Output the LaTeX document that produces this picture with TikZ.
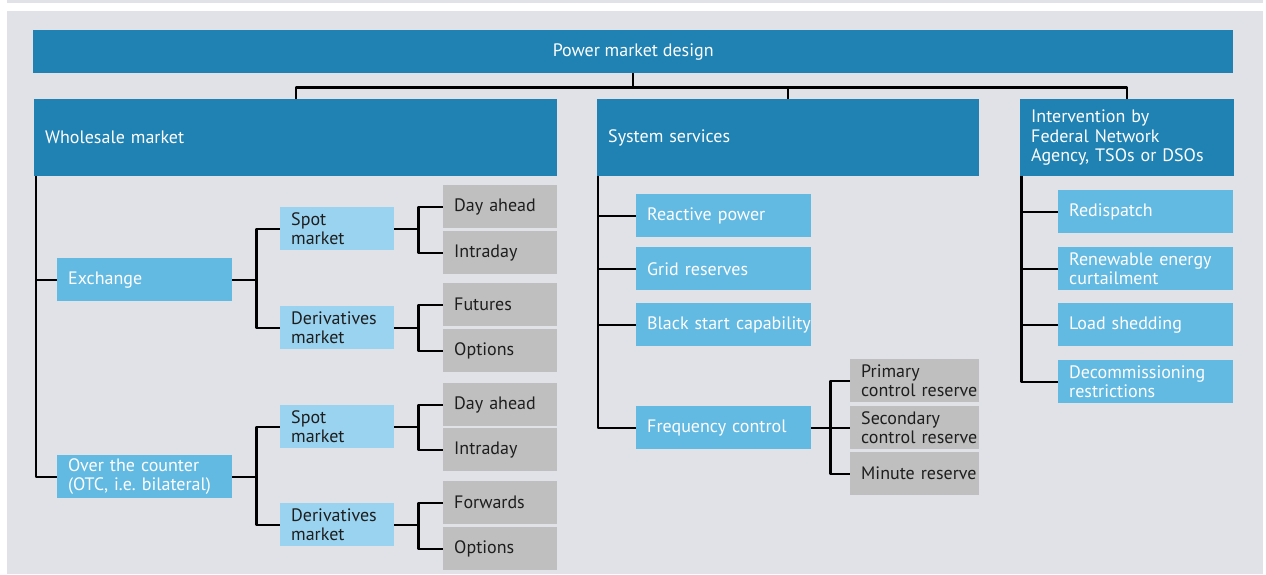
\documentclass[tikz,border=0pt]{standalone}
\usepackage{fontspec}
\setmainfont{PT Sans}
\hyphenpenalty=10000
\exhyphenpenalty=10000
\definecolor{panel}{HTML}{E1E2E7}
\definecolor{dkblue}{HTML}{1F82B3}
\definecolor{mdblue}{HTML}{62BAE3}
\definecolor{ltblue}{HTML}{9AD3F0}
\definecolor{leafgray}{HTML}{BFBFBF}
\definecolor{ink}{HTML}{1E1E1E}
\begin{document}
\begin{tikzpicture}[x=1pt, y=-1pt, line join=round,
	box/.style={rectangle, anchor=north west, inner xsep=11pt, inner ysep=0pt, align=left,
		font=\fontsize{18}{19.5}\selectfont},
	head/.style={box, fill=dkblue, text=white, minimum height=77pt},
	cell/.style={box, minimum width=175pt, text width=153pt, minimum height=43pt},
	small/.style={box, minimum width=114pt, text width=92pt, minimum height=43pt},
	sub/.style={box, minimum width=129pt, text width=107pt, minimum height=43pt, fill=leafgray, text=ink},
	mid/.style={fill=mdblue, text=white},
	light/.style={fill=ltblue, text=ink},
	leaf/.style={small, fill=leafgray, text=ink},
	link/.style={line width=2.2pt, black}]
	\useasboundingbox (0,0) rectangle (1266,574);
	% backdrop
	\fill[panel] (7,0) rectangle (1263,3);
	\fill[panel] (7,11) rectangle (1263,574);
	% top level
	\node[head, minimum width=1200pt, minimum height=43pt, align=center] (power) at (33,30) {Power market design};
	\node[head, minimum width=523pt, text width=501pt] (whole) at (34,99) {Wholesale market};
	\node[head, minimum width=382pt, text width=360pt] (sys) at (597,99) {System services};
	\node[head, minimum width=214pt, text width=192pt] (inter) at (1020,99) {Intervention by\\Federal Network\\Agency,~TSOs~or~DSOs};
	% wholesale market
	\node[cell, mid] (exch) at (57,258) {Exchange};
	\node[cell, mid] (otc) at (57,455) {Over~the~counter\\(OTC,~i.e.~bilateral)};
	\node[small, light] (spotA) at (280,207) {Spot\\market};
	\node[small, light] (derivA) at (280,306) {Derivatives\\market};
	\node[small, light] (spotB) at (280,405) {Spot\\market};
	\node[small, light] (derivB) at (280,503) {Derivatives\\market};
	\node[leaf] (dayA) at (443,185) {Day~ahead};
	\node[leaf] (intraA) at (443,231) {Intraday};
	\node[leaf] (fut) at (443,283) {Futures};
	\node[leaf] (optA) at (443,329) {Options};
	\node[leaf] (dayB) at (443,383) {Day~ahead};
	\node[leaf] (intraB) at (443,428) {Intraday};
	\node[leaf] (fwd) at (443,481) {Forwards};
	\node[leaf] (optB) at (443,527) {Options};
	% system services
	\node[cell, mid] (react) at (636,194) {Reactive~power};
	\node[cell, mid] (grid) at (636,247) {Grid~reserves};
	\node[cell, mid] (black) at (636,303) {Black~start~capability};
	\node[cell, mid] (freq) at (636,406) {Frequency~control};
	\node[sub] (prim) at (850,359) {Primary\\control~reserve};
	\node[sub] (sec) at (850,406) {Secondary\\control~reserve};
	\node[sub] (minute) at (850,452) {Minute~reserve};
	% interventions
	\node[cell, mid] (redisp) at (1058,190) {Redispatch};
	\node[cell, mid] (renew) at (1058,247) {Renewable~energy\\curtailment};
	\node[cell, mid] (load) at (1058,303) {Load~shedding};
	\node[cell, mid] (decom) at (1058,360) {Decommissioning\\restrictions};
	% connectors
	\draw[link] (power.south) -- ++(0,14) coordinate (H);
	\draw[link] (whole.north) |- (H) -| (inter.north);
	\draw[link] (H) -| (sys.north);
	\foreach \b in {exch,otc} \draw[link] ([xshift=2pt]whole.south west) |- (\b.west);
	\foreach \a/\b in {exch/spotA,exch/derivA,otc/spotB,otc/derivB,
		spotA/dayA,spotA/intraA,derivA/fut,derivA/optA,
		spotB/dayB,spotB/intraB,derivB/fwd,derivB/optB}
		\draw[link] (\a.east) -- ++(24,0) |- (\b.west);
	\foreach \b in {react,grid,black,freq} \draw[link] ([xshift=1pt]sys.south west) |- (\b.west);
	\foreach \b in {prim,sec,minute} \draw[link] (freq.east) -- ++(19,0) |- (\b.west);
	\foreach \b in {redisp,renew,load,decom} \draw[link] ([xshift=1.5pt]inter.south west) |- (\b.west);
\end{tikzpicture}
\end{document}
